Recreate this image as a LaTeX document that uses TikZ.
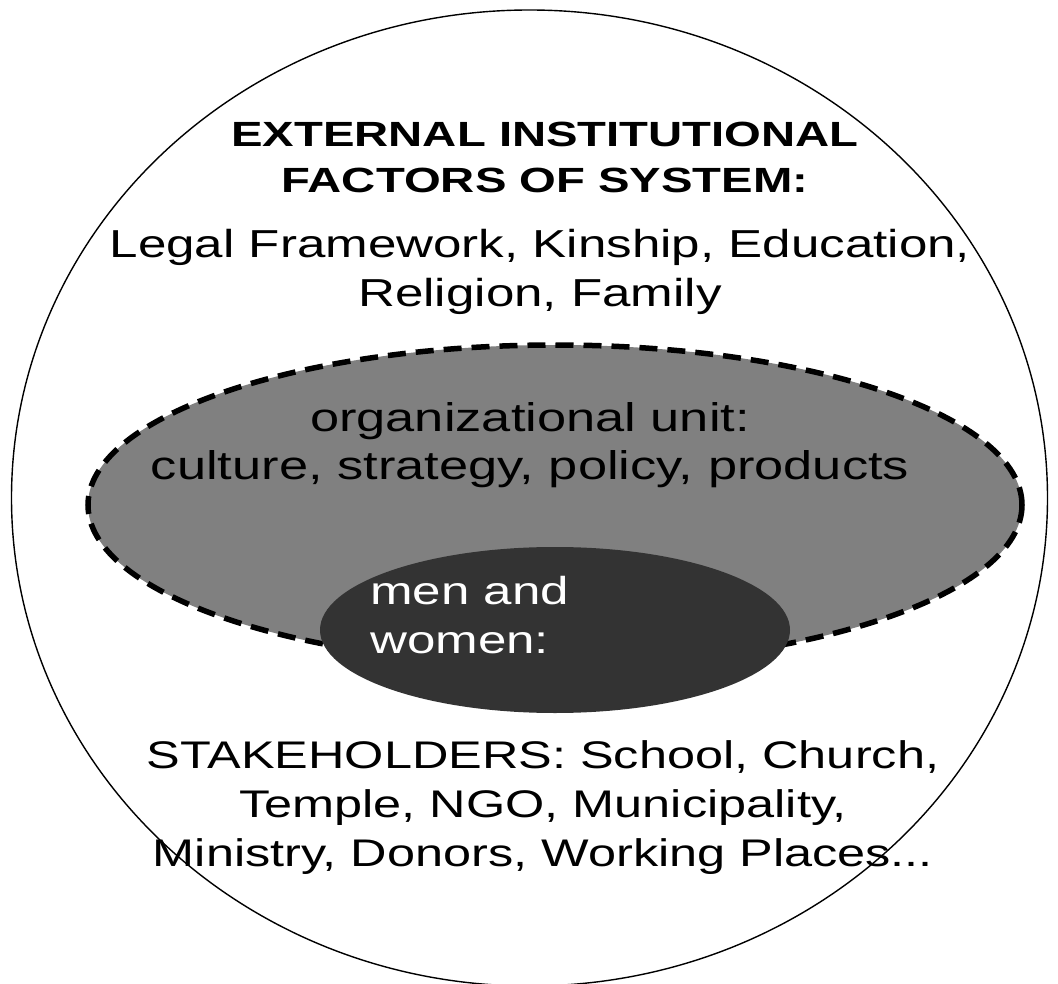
\documentclass[tikz,border=0pt]{standalone}
\usepackage{fontspec}
\setmainfont{Liberation Sans}
\newfontfamily\headfont{Liberation Sans Bold}[FakeStretch=1.35]
\newfontfamily\bodyfont{Liberation Sans}[FakeStretch=1.31]
\usetikzlibrary{shapes.geometric}
\definecolor{unitgray}{HTML}{808080}
\definecolor{peopledark}{HTML}{333333}

\begin{document}
\begin{tikzpicture}[x=1pt, y=-1pt,
    every node/.style={inner sep=0pt},
    zone/.style={ellipse, inner sep=0pt},
    headtext/.style={font=\headfont\fontsize{35}{46}\selectfont, align=center},
    bodytext/.style={font=\bodyfont\fontsize{39}{49}\selectfont, align=center}]

  \useasboundingbox (0,0) rectangle (1058,984);

  % nested zones
  \node[zone, draw, line width=1.4pt, minimum width=1036pt, minimum height=976pt] (env) at (529.5,498) {};
  \node[zone, fill=unitgray, draw, line width=5.5pt, dash pattern=on 18pt off 10pt,
        minimum width=934pt, minimum height=320pt] (unit) at (555,505) {};
  \node[zone, fill=peopledark, minimum width=470pt, minimum height=166pt] (people) at (555,630) {};

  % texts
  \node[headtext] (headlbl) at (545,157) {EXTERNAL INSTITUTIONAL\\FACTORS OF SYSTEM:};
  \node[bodytext] (framelbl) at (540,272) {Legal Framework, Kinship, Education,\\Religion, Family};
  \node[bodytext, font=\bodyfont\fontsize{40}{48}\selectfont] (unitlbl) at (530,445) {organizational unit:\\culture, strategy, policy, products};
  \node[bodytext, align=left, anchor=north west, text=white] (peoplelbl) at (370,576) {men and\\women:};
  \node[bodytext, font=\bodyfont\fontsize{38.5}{49}\selectfont] (stakelbl) at (543,808) {STAKEHOLDERS: School, Church,\\Temple, NGO, Municipality,\\Ministry, Donors, Working Places...};
\end{tikzpicture}
\end{document}
